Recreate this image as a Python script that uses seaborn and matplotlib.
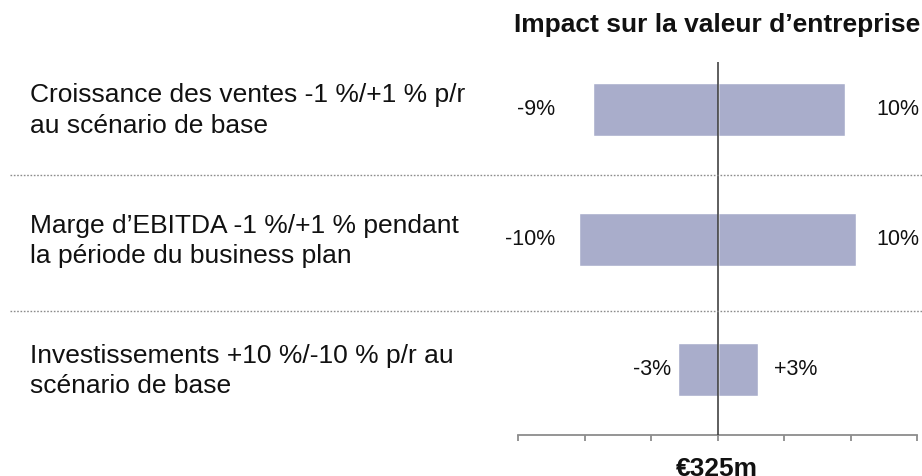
import numpy as np
import matplotlib
matplotlib.use("Agg")
import matplotlib.pyplot as plt
import matplotlib.transforms as mtransforms
from matplotlib.lines import Line2D
import seaborn as sns

# data
drivers = [
    "Croissance des ventes -1 %/+1 % p/r\nau scénario de base",
    "Marge d\u2019EBITDA -1 %/+1 % pendant\nla période du business plan",
    "Investissements +10 %/-10 % p/r au\nscénario de base",
]
low_impact = [-9.0, -10.0, -2.85]   # % of enterprise value
high_impact = [9.2, 10.0, 2.9]
low_labels = ["-9%", "-10%", "-3%"]
high_labels = ["10%", "10%", "+3%"]
title = "Impact sur la valeur d\u2019entreprise"
base_value = "€325m"

sns.set_style("white")
plt.rcParams["font.family"] = ["Liberation Sans", "DejaVu Sans"]

BAR_COLOR = "#A9ADCB"
XMAX = 14.4

fig = plt.figure(figsize=(9.22, 4.76), dpi=100)
ax = fig.add_axes([518 / 922, 41 / 476, 399 / 922, 373 / 476])

ypos = np.arange(len(drivers))
sns.barplot(x=high_impact, y=ypos, orient="h", color=BAR_COLOR,
            saturation=1, width=0.406, ax=ax)
sns.barplot(x=low_impact, y=ypos, orient="h", color=BAR_COLOR,
            saturation=1, width=0.406, ax=ax)

ax.set_xlim(-XMAX, XMAX)
ax.set_ylim(2.5, -0.364)
ax.axvline(0, color="#333333", lw=1.1, zorder=5)

# axis styling: only a grey bottom line with ticks
sns.despine(ax=ax, left=True)
ax.spines["bottom"].set_color("#8c8c8c")
ax.spines["bottom"].set_linewidth(1.3)
ax.set_xticks(np.linspace(-XMAX, XMAX, 7))
ax.set_xticklabels([])
ax.tick_params(axis="x", direction="out", length=4.5, width=1.3,
               color="#8c8c8c", bottom=True)
ax.set_yticks([])
ax.set_xlabel("")
ax.set_ylabel("")

# value labels
for i, (lo, hi) in enumerate(zip(low_impact, high_impact)):
    lx = -11.7 if abs(lo) > 5 else lo - 0.5
    rx = 11.45 if abs(hi) > 5 else hi + 1.2
    ax.text(lx, i, low_labels[i], ha="right", va="center", fontsize=15.5,
            color="#111111")
    ax.text(rx, i, high_labels[i], ha="left", va="center", fontsize=15.5,
            color="#111111")

# driver descriptions on the left, separators between rows
trans = mtransforms.blended_transform_factory(fig.transFigure, ax.transData)
for i, name in enumerate(drivers):
    fig.text(30 / 922, i + 0.01, name, transform=trans, ha="left",
             va="center", fontsize=19, linespacing=1.34, color="#111111")

for ysep in [0.5, 1.55]:
    fig.add_artist(Line2D([10 / 922, 1.0], [ysep, ysep], transform=trans,
                          color="#8c8c8c", lw=1.0, linestyle=(0, (1.2, 1.2))))

fig.text(717 / 922, 1 - 32 / 476, title, ha="center", va="baseline",
         fontsize=19, fontweight="bold", color="#111111")
fig.text(717 / 922, 1 - 457 / 476, base_value, ha="center", va="top",
         fontsize=19, fontweight="bold", color="#111111")

fig.savefig("out.png", dpi=100)
